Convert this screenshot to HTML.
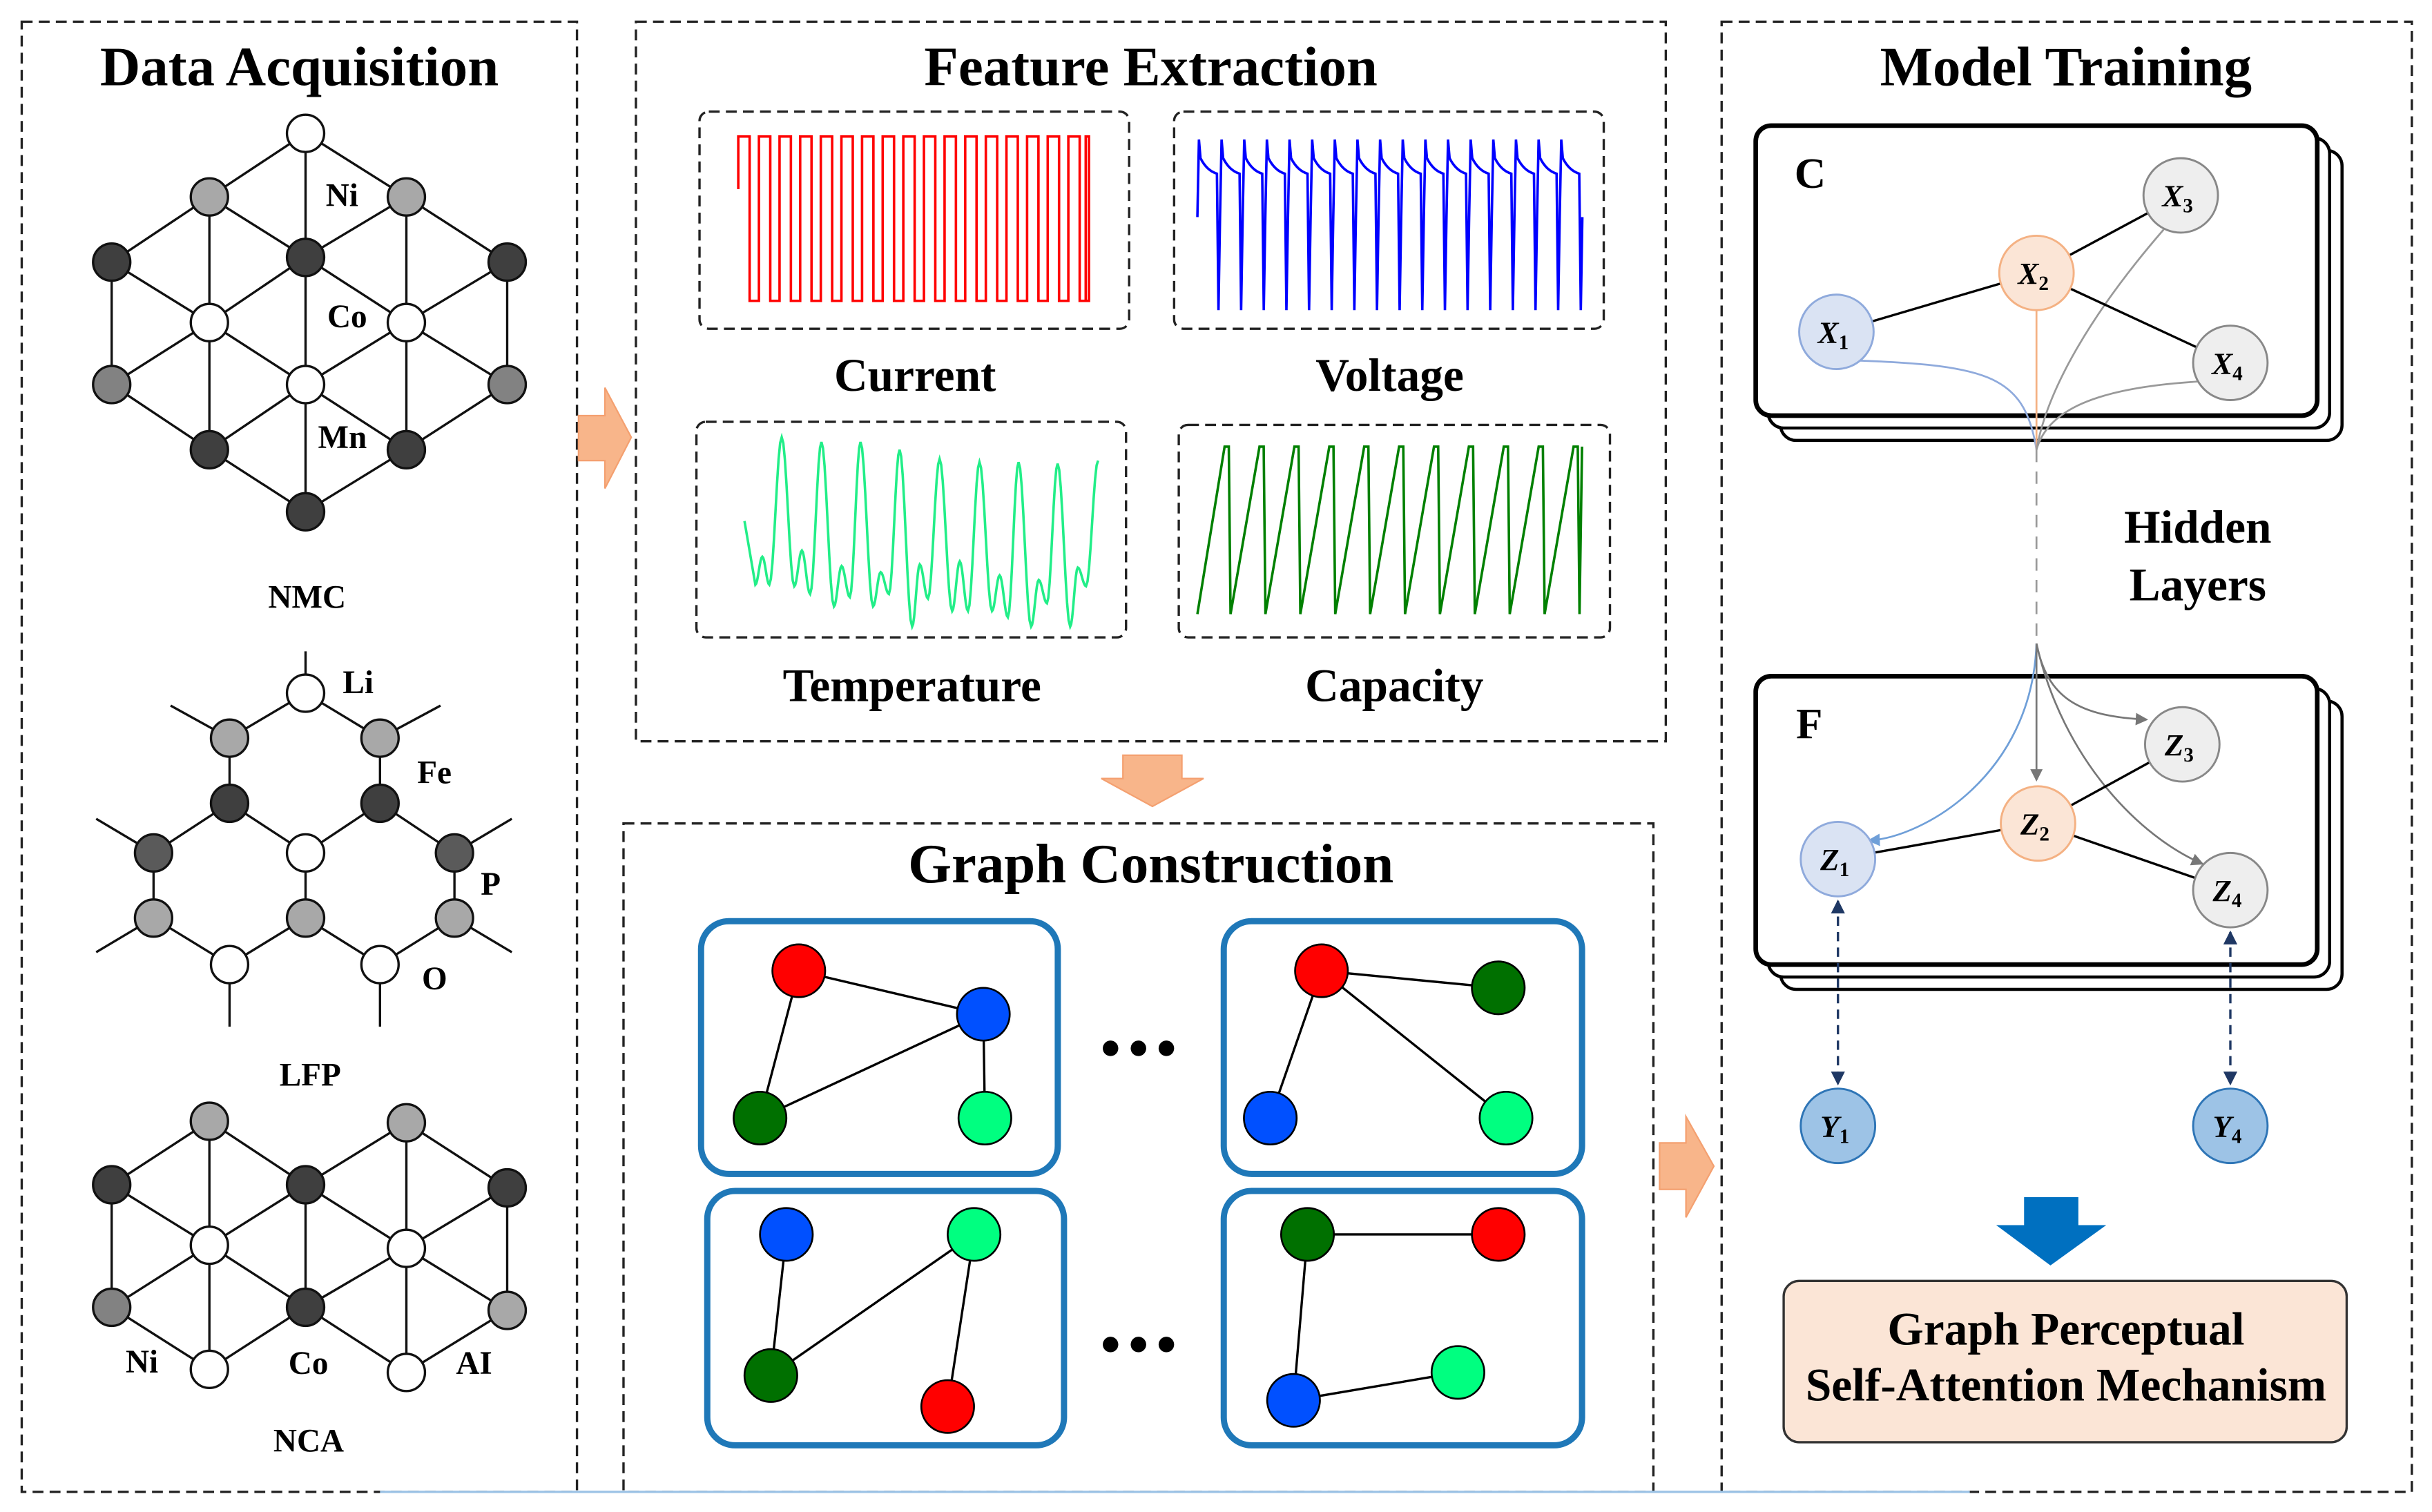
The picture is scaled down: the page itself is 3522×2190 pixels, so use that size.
<!DOCTYPE html>
<html><head><meta charset="utf-8"><style>
html,body{margin:0;padding:0;background:#fff;}
svg{display:block;}
text{font-family:"Liberation Serif",serif;font-weight:bold;fill:#000;}
</style></head><body>
<svg id="s" width="3522" height="2190" viewBox="0 0 1568 975" xmlns="http://www.w3.org/2000/svg">
<defs>
<marker id="ag" markerWidth="8" markerHeight="8" refX="7" refY="4" orient="auto" markerUnits="userSpaceOnUse"><path d="M0,0 L8,4 L0,8 z" fill="#777"/></marker>
<marker id="ab" markerWidth="8" markerHeight="8" refX="7" refY="4" orient="auto" markerUnits="userSpaceOnUse"><path d="M0,0 L8,4 L0,8 z" fill="#6f9fd8"/></marker>
<marker id="an" markerWidth="9" markerHeight="9" refX="8" refY="4.5" orient="auto-start-reverse" markerUnits="userSpaceOnUse"><path d="M0,0 L9,4.5 L0,9 z" fill="#1f3864"/></marker>
</defs>
<g fill="none" stroke="#222" stroke-width="1.5" stroke-dasharray="7,4">
<rect x="14" y="14" width="358" height="948"/>
<rect x="410" y="14" width="664" height="464"/>
<rect x="402" y="531" width="664" height="431"/>
<rect x="1110" y="14" width="445" height="948"/>
<rect x="451" y="72" width="277" height="140" rx="6"/>
<rect x="757" y="72" width="277" height="140" rx="6"/>
<rect x="449" y="272" width="277" height="139" rx="6"/>
<rect x="760" y="274" width="278" height="137" rx="6"/>
</g>
<line x1="245" y1="962" x2="1270" y2="962" stroke="#9dc3e6" stroke-width="1.5"/>
<g fill="#f8b58a" stroke="#f4a070" stroke-width="1">
<path d="M373,268 H390 V250 L407,282 L390,315 V297 H373 z"/>
<path d="M724,487 H762 V502 H776 L743,520 L710,502 H724 z"/>
<path d="M1070,737 H1087 V720 L1105,752 L1087,785 V767 H1070 z"/>
</g>
<text x="193" y="55" font-size="36" text-anchor="middle">Data Acquisition</text>
<text x="742" y="55" font-size="36" text-anchor="middle">Feature Extraction</text>
<text x="742" y="569" font-size="36" text-anchor="middle">Graph Construction</text>
<text x="1332" y="55" font-size="36" text-anchor="middle">Model Training</text>
<g font-size="30" text-anchor="middle">
<text x="590" y="252">Current</text><text x="896" y="252">Voltage</text>
<text x="588" y="452">Temperature</text><text x="899" y="452">Capacity</text>
</g>
<g id="waves" fill="none" stroke-width="1.6"></g>
<g id="latt" stroke="#111" stroke-width="1.5"></g>
<g font-size="21">
<text x="210" y="133">Ni</text><text x="211" y="211">Co</text><text x="205" y="289">Mn</text>
<text x="198" y="392" text-anchor="middle">NMC</text>
<text x="221" y="447">Li</text><text x="269" y="505">Fe</text><text x="310" y="577">P</text><text x="272" y="638">O</text>
<text x="200" y="700" text-anchor="middle">LFP</text>
<text x="81" y="885">Ni</text><text x="186" y="886">Co</text><text x="294" y="886">AI</text>
<text x="199" y="936" text-anchor="middle">NCA</text>
</g>
<g fill="none" stroke="#1f78b8" stroke-width="4">
<rect x="452" y="594" width="230" height="163" rx="18"/>
<rect x="789" y="594" width="231" height="163" rx="18"/>
<rect x="456" y="768" width="230" height="164" rx="18"/>
<rect x="789" y="768" width="231" height="164" rx="18"/>
</g>
<g stroke="#000" stroke-width="1.5">
<line x1="515" y1="626" x2="634" y2="654"/><line x1="515" y1="626" x2="490" y2="721"/><line x1="490" y1="721" x2="634" y2="654"/><line x1="634" y1="654" x2="635" y2="721"/>
<line x1="852" y1="626" x2="966" y2="637"/><line x1="852" y1="626" x2="819" y2="721"/><line x1="852" y1="626" x2="971" y2="721"/>
<line x1="507" y1="796" x2="497" y2="887"/><line x1="497" y1="887" x2="628" y2="796"/><line x1="628" y1="796" x2="611" y2="907"/>
<line x1="843" y1="796" x2="966" y2="796"/><line x1="843" y1="796" x2="834" y2="903"/><line x1="834" y1="903" x2="940" y2="885"/>
</g>
<g stroke="#000" stroke-width="1.2">
<circle cx="515" cy="626" r="17" fill="#ff0000"/><circle cx="634" cy="654" r="17" fill="#0050ff"/><circle cx="490" cy="721" r="17" fill="#007000"/><circle cx="635" cy="721" r="17" fill="#00ff80"/>
<circle cx="852" cy="626" r="17" fill="#ff0000"/><circle cx="966" cy="637" r="17" fill="#007000"/><circle cx="819" cy="721" r="17" fill="#0050ff"/><circle cx="971" cy="721" r="17" fill="#00ff80"/>
<circle cx="507" cy="796" r="17" fill="#0050ff"/><circle cx="628" cy="796" r="17" fill="#00ff80"/><circle cx="497" cy="887" r="17" fill="#007000"/><circle cx="611" cy="907" r="17" fill="#ff0000"/>
<circle cx="843" cy="796" r="17" fill="#007000"/><circle cx="966" cy="796" r="17" fill="#ff0000"/><circle cx="834" cy="903" r="17" fill="#0050ff"/><circle cx="940" cy="885" r="17" fill="#00ff80"/>
</g>
<g fill="#000"><circle cx="716" cy="676" r="5"/><circle cx="734" cy="676" r="5"/><circle cx="752" cy="676" r="5"/>
<circle cx="716" cy="867" r="5"/><circle cx="734" cy="867" r="5"/><circle cx="752" cy="867" r="5"/></g>
<g fill="#fff" stroke="#000" stroke-width="2">
<rect x="1148" y="97" width="362" height="187" rx="10"/><rect x="1140" y="89" width="362" height="187" rx="10"/><rect x="1132" y="81" width="362" height="187" rx="10" stroke-width="3"/>
<rect x="1148" y="452" width="362" height="186" rx="10"/><rect x="1140" y="444" width="362" height="186" rx="10"/><rect x="1132" y="436" width="362" height="186" rx="10" stroke-width="3"/>
</g>
<text x="1157" y="121" font-size="28">C</text><text x="1158" y="476" font-size="28">F</text>
<g fill="none" stroke-width="1.2">
<path d="M1184,232 C1280,235 1305,240 1313,290" stroke="#8faadc"/>
<path d="M1313,200 L1313,290" stroke="#f4b183"/>
<path d="M1395,148 C1350,200 1320,250 1313,290" stroke="#999"/>
<path d="M1418,246 C1350,250 1320,265 1313,290" stroke="#999"/>
<line x1="1313" y1="290" x2="1313" y2="415" stroke="#999" stroke-dasharray="8,6"/>
<path d="M1313,415 C1310,500 1240,540 1205,542" stroke="#6f9fd8" marker-end="url(#ab)"/>
<line x1="1313" y1="415" x2="1313" y2="503" stroke="#777" marker-end="url(#ag)"/>
<path d="M1313,415 C1320,450 1340,462 1384,464" stroke="#777" marker-end="url(#ag)"/>
<path d="M1313,415 C1330,490 1380,540 1420,557" stroke="#777" marker-end="url(#ag)"/>
</g>
<g stroke="#000" stroke-width="1.5">
<line x1="1184" y1="214" x2="1313" y2="176"/><line x1="1313" y1="176" x2="1406" y2="126"/><line x1="1313" y1="176" x2="1438" y2="234"/>
<line x1="1185" y1="554" x2="1314" y2="531"/><line x1="1314" y1="531" x2="1407" y2="480"/><line x1="1314" y1="531" x2="1438" y2="574"/>
</g>
<g stroke="#1f3864" stroke-width="1.5" stroke-dasharray="6,4">
<line x1="1185" y1="581" x2="1185" y2="699" marker-start="url(#an)" marker-end="url(#an)"/>
<line x1="1438" y1="601" x2="1438" y2="699" marker-start="url(#an)" marker-end="url(#an)"/>
</g>
<g stroke-width="1.3">
<circle cx="1184" cy="214" r="24" fill="#dae3f3" stroke="#8faadc"/><circle cx="1313" cy="176" r="24" fill="#fbe5d6" stroke="#f4b183"/>
<circle cx="1406" cy="126" r="24" fill="#eeeeee" stroke="#888"/><circle cx="1438" cy="234" r="24" fill="#eeeeee" stroke="#888"/>
<circle cx="1185" cy="554" r="24" fill="#dae3f3" stroke="#8faadc"/><circle cx="1314" cy="531" r="24" fill="#fbe5d6" stroke="#f4b183"/>
<circle cx="1407" cy="480" r="24" fill="#eeeeee" stroke="#888"/><circle cx="1438" cy="574" r="24" fill="#eeeeee" stroke="#888"/>
<circle cx="1185" cy="726" r="24" fill="#9dc3e6" stroke="#2e75b6"/><circle cx="1438" cy="726" r="24" fill="#9dc3e6" stroke="#2e75b6"/>
</g>
<g font-size="20" font-style="italic" text-anchor="middle">
<text x="1182" y="221">X<tspan font-size="13" dy="4" font-style="normal">1</tspan></text>
<text x="1311" y="183">X<tspan font-size="13" dy="4" font-style="normal">2</tspan></text>
<text x="1404" y="133">X<tspan font-size="13" dy="4" font-style="normal">3</tspan></text>
<text x="1436" y="241">X<tspan font-size="13" dy="4" font-style="normal">4</tspan></text>
<text x="1183" y="561">Z<tspan font-size="13" dy="4" font-style="normal">1</tspan></text>
<text x="1312" y="538">Z<tspan font-size="13" dy="4" font-style="normal">2</tspan></text>
<text x="1405" y="487">Z<tspan font-size="13" dy="4" font-style="normal">3</tspan></text>
<text x="1436" y="581">Z<tspan font-size="13" dy="4" font-style="normal">4</tspan></text>
<text x="1183" y="733">Y<tspan font-size="13" dy="4" font-style="normal">1</tspan></text>
<text x="1436" y="733">Y<tspan font-size="13" dy="4" font-style="normal">4</tspan></text>
</g>
<text x="1417" y="350" font-size="30" text-anchor="middle">Hidden</text>
<text x="1417" y="387" font-size="30" text-anchor="middle">Layers</text>
<path d="M1305,772 H1340 V790 H1358 L1322,816 L1287,790 H1305 z" fill="#0070c0"/>
<rect x="1150" y="826" width="363" height="104" rx="10" fill="#fbe5d6" stroke="#333" stroke-width="1.5"/>
<text x="1332" y="867" font-size="30" text-anchor="middle">Graph Perceptual</text>
<text x="1332" y="903" font-size="30" text-anchor="middle">Self-Attention Mechanism</text>
</svg>
<script>
var NS="http://www.w3.org/2000/svg";
function P(g,d,c,w){var p=document.createElementNS(NS,"path");p.setAttribute("d",d);p.setAttribute("stroke",c);if(w)p.setAttribute("stroke-width",w);g.appendChild(p);}
var W=document.getElementById("waves");
var d="M476,122 L476,88",x=476,per=13.3,i;
for(i=0;i<17;i++){d+=" L"+(x+per*0.55)+",88 L"+(x+per*0.55)+",194 L"+(x+per)+",194 L"+(x+per)+",88";x+=per;}
d+=" L700,88 L700,194";P(W,d,"#ff0000");
d="M772,140";x=772;per=14.6;
for(i=0;i<17;i++){d+=" L"+(x+1)+",90 L"+(x+2)+",102 Q"+(x+6)+",110 "+(x+per-2)+",112 L"+(x+per-1)+",200 L"+(x+per)+",140";x+=per;}
P(W,d,"#0000ff");
// temperature keypoints
var peaksX=[504,529.6,554.8,580,605.8,631.5,656.7,681.9],peaksY=[282,285,285,290,296,298,298,299];
var cyc=[[378,355,383],[391,365,385],[391,369,383],[404,364,386],[394,362,394],[394,371,398],[404,374,389],[404,366,378]];
var kp=[[480,336],[487,377],[491.5,359],[496,377]];
for(i=0;i<8;i++){var px=peaksX[i];kp.push([px,peaksY[i]]);kp.push([px+8.1,cyc[i][0]]);kp.push([px+13,cyc[i][1]]);kp.push([px+18.3,cyc[i][2]]);}
kp.push([708,297]);
d="M"+kp[0][0]+","+kp[0][1];
for(i=1;i<kp.length;i++){var a=kp[i-1],b=kp[i];
 if(i==1){d+=" L"+b[0]+","+b[1];continue;}
 for(var s=1;s<=8;s++){var t=s/8,u=(1-Math.cos(Math.PI*t))/2;d+=" L"+(a[0]+(b[0]-a[0])*t).toFixed(2)+","+(a[1]+(b[1]-a[1])*u).toFixed(2);}}
P(W,d,"#22ee88");
d="M772,396";x=772;per=22.5;
for(i=0;i<11;i++){d+=" L"+(x+per*0.78)+",288 L"+(x+per*0.9)+",288 L"+(x+per*0.95)+",396";x+=per;}
d+=" L1020,288";P(W,d,"#008000");
var L=document.getElementById("latt");
function ln(a,b){var e=document.createElementNS(NS,"line");e.setAttribute("x1",a[0]);e.setAttribute("y1",a[1]);e.setAttribute("x2",b[0]);e.setAttribute("y2",b[1]);L.appendChild(e);}
function nd(p,f){var c=document.createElementNS(NS,"circle");c.setAttribute("cx",p[0]);c.setAttribute("cy",p[1]);c.setAttribute("r",12);c.setAttribute("fill",f);L.appendChild(c);}
var Wt="#fff",G="#a8a8a8",D="#3f3f3f",DG="#828282",DD="#5a5a5a";
var n={t:[197,86],g1:[135,127],g2:[262,127],dL:[72,169],dC:[197,166],dR:[327,169],w1:[135,208],w2:[262,208],gL:[72,248],wC:[197,248],gR:[327,248],b1:[135,290],b2:[262,290],bt:[197,330]};
[["t","g1"],["t","g2"],["t","dC"],["g1","dL"],["g1","dC"],["g1","w1"],["g2","dC"],["g2","dR"],["g2","w2"],["dL","w1"],["dL","gL"],["dC","w1"],["dC","w2"],["dC","wC"],["dR","w2"],["dR","gR"],["w1","gL"],["w1","wC"],["w1","b1"],["w2","wC"],["w2","gR"],["w2","b2"],["gL","b1"],["gR","b2"],["wC","b1"],["wC","b2"],["wC","bt"],["b1","bt"],["b2","bt"]].forEach(function(e){ln(n[e[0]],n[e[1]]);});
[["t",Wt],["g1",G],["g2",G],["dL",D],["dC",D],["dR",D],["w1",Wt],["w2",Wt],["gL",DG],["wC",Wt],["gR",DG],["b1",D],["b2",D],["bt",D]].forEach(function(e){nd(n[e[0]],e[1]);});
n={li:[197,447],a:[148,476],b:[245,476],c:[148,518],d:[245,518],e:[99,550],f:[197,550],g:[293,550],h:[99,592],i:[197,592],j:[293,592],k:[148,622],l:[245,622]};
[["li","a"],["li","b"],["a","c"],["b","d"],["c","e"],["c","f"],["d","f"],["d","g"],["e","h"],["f","i"],["g","j"],["h","k"],["i","k"],["i","l"],["j","l"]].forEach(function(e){ln(n[e[0]],n[e[1]]);});
ln([197,447],[197,420]);ln([148,476],[110,455]);ln([245,476],[284,455]);ln([99,550],[62,528]);ln([293,550],[330,528]);ln([99,592],[62,614]);ln([293,592],[330,614]);ln([148,622],[148,662]);ln([245,622],[245,662]);
[["li",Wt],["a",G],["b",G],["c",D],["d",D],["e",DD],["f",Wt],["g",DD],["h",G],["i",G],["j",G],["k",Wt],["l",Wt]].forEach(function(e){nd(n[e[0]],e[1]);});
n={g1:[135,723],g2:[262,724],dL:[72,764],dC:[197,764],dR:[327,766],w1:[135,803],w2:[262,805],gL:[72,843],dM:[197,843],gR:[327,845],b1:[135,883],b2:[262,885]};
[["g1","dL"],["g1","dC"],["g1","w1"],["g2","dC"],["g2","dR"],["g2","w2"],["dL","w1"],["dL","gL"],["dC","w1"],["dC","dM"],["dC","w2"],["dR","w2"],["dR","gR"],["w1","gL"],["w1","dM"],["w1","b1"],["w2","dM"],["w2","gR"],["w2","b2"],["gL","b1"],["dM","b1"],["dM","b2"],["gR","b2"]].forEach(function(e){ln(n[e[0]],n[e[1]]);});
[["g1",G],["g2",G],["dL",D],["dC",D],["dR",D],["w1",Wt],["w2",Wt],["gL",DG],["dM",D],["gR",G],["b1",Wt],["b2",Wt]].forEach(function(e){nd(n[e[0]],e[1]);});
</script>
</body></html>
